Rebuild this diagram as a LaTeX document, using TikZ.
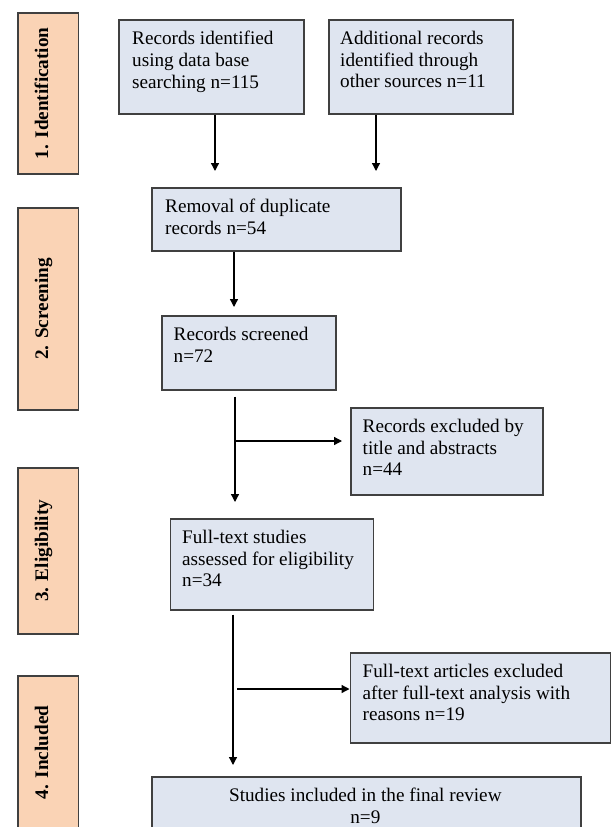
\documentclass[tikz,border=0pt]{standalone}
\usepackage{fontspec}
\setmainfont{Liberation Serif}
\usetikzlibrary{arrows.meta,calc}
\definecolor{boxfill}{HTML}{DFE5F0}
\definecolor{labfill}{HTML}{FAD3B5}
\definecolor{edge}{HTML}{404040}
\tikzset{
  box/.style={draw=edge, line width=1.7pt, fill=boxfill, rectangle, inner sep=0pt, anchor=north west},
  labbox/.style={draw=edge, line width=1.7pt, fill=labfill, rectangle, inner sep=0pt, anchor=north west},
  txt/.style={inner sep=0pt, align=left, anchor=north west, font=\fontsize{19.2}{21.7}\selectfont},
  labtxt/.style={inner sep=0pt, rotate=90, anchor=base, font=\fontsize{19.2}{21.7}\selectfont\bfseries},
  arr/.style={line width=1.3pt, black, -{Triangle[length=8pt,width=8pt]}},
}
\begin{document}
\begin{tikzpicture}[x=1pt,y=-1pt]
\clip (0,0) rectangle (611,827);
\fill[white] (0,0) rectangle (611,827);
% stage labels
\node[labbox, minimum width=60.5pt, minimum height=161pt] (L1) at (17,12) {};
\node[labtxt] (L1t) at (L1.center) {1. Identification};
\node[labbox, minimum width=60.5pt, minimum height=202pt] (L2) at (17,207) {};
\node[labtxt] (L2t) at (L2.center) {2. Screening};
\node[labbox, minimum width=60.5pt, minimum height=166pt] (L3) at (17,467) {};
\node[labtxt] (L3t) at (L3.center) {3. Eligibility};
\node[labbox, minimum width=60.5pt, minimum height=153pt] (L4) at (17,675) {};
\node[labtxt] (L4t) at (L4.center) {4. Included};
% boxes
\node[box, minimum width=185pt, minimum height=94pt] (A) at (118,19) {};
\node[txt] (At) at ($(A.north west)+(14,12)$) {Records identified\\using data base\\searching n=115};
\node[box, minimum width=184pt, minimum height=94pt] (B) at (328,19) {};
\node[txt] (Bt) at ($(B.north west)+(12,12)$) {Additional records\\identified through\\other sources n=11};
\node[box, minimum width=249pt, minimum height=63pt] (C) at (151,187) {};
\node[txt] (Ct) at ($(C.north west)+(14,12)$) {Removal of duplicate\\records n=54};
\node[box, minimum width=174pt, minimum height=74pt] (D) at (161,315) {};
\node[txt] (Dt) at ($(D.north west)+(12.5,12)$) {Records screened\\n=72};
\node[box, minimum width=192pt, minimum height=87pt] (E) at (350,407) {};
\node[txt] (Et) at ($(E.north west)+(12.5,12)$) {Records excluded by\\title and abstracts\\n=44};
\node[box, minimum width=203pt, minimum height=91pt] (F) at (169.5,518) {};
\node[txt] (Ft) at ($(F.north west)+(12.5,12)$) {Full-text studies\\assessed for eligibility\\n=34};
\node[box, minimum width=260pt, minimum height=90pt] (G) at (349.5,652) {};
\node[txt] (Gt) at ($(G.north west)+(13,12)$) {Full-text articles excluded\\after full-text analysis with\\reasons n=19};
\node[box, minimum width=429pt, minimum height=70pt] (H) at (151,776) {};
\node[txt, align=center, anchor=north] (Ht) at ($(H.north)+(-1,12)$) {Studies included in the final review\\n=9};
% connectors
\coordinate (a1) at (215,171);
\coordinate (b1) at (376,171);
\draw[arr] (A.south -| a1) -- (a1);
\draw[arr] (B.south -| b1) -- (b1);
\coordinate (cx) at (234,280);
\draw[arr, shorten >=8pt] (C.south -| cx) -- (D.north -| cx);
\coordinate (dx) at (235,441);
\draw[arr, shorten <=6pt, shorten >=16pt] (D.south -| dx) -- (F.north -| dx);
\draw[arr, shorten >=8pt] (dx) -- (dx -| E.west);
\coordinate (fx) at (233,689);
\draw[arr, shorten <=4pt, shorten >=11pt] (F.south -| fx) -- (H.north -| fx);
\coordinate (gx) at (237,689);
\draw[arr] (gx) -- (gx -| G.west);
\end{tikzpicture}
\end{document}
